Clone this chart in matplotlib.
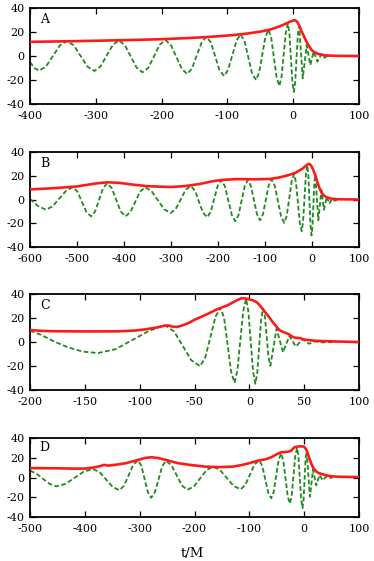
import matplotlib
matplotlib.use("Agg")
import matplotlib.pyplot as plt

# ---- panel A ----
a_t_wave = [-400, -393,
            -386, -375.5, -365, -354.5, -344, -333.5, -323, -312.5,
            -302, -293, -283.5, -274, -265, -256, -247, -238,
            -229, -220, -211.5, -203, -194, -186, -177.5, -169,
            -161, -154, -146.5, -139, -132, -125, -118.5, -112,
            -105, -99, -92.5, -86, -80, -74, -68.25, -62.5,
            -56.5, -51.75, -47, -42.25, -37.5, -33.4, -29.25, -25.1,
            -21, -17.75, -14.5, -11.25, -8, -5.75, -3.5, -1.25,
            1, 3, 5, 7, 9, 14.5, 20.5, 26, 31, 37, 43, 48, 53, 60]
a_h_wave = [-5, -10.2,
            -12.2, -8.6, 0.2, 8.9, 12.5, 8.9, 0, -8.9,
            -12.5, -8.8, 0.3, 9.3, 13, 9.1, -0.3, -9.7,
            -13.6, -9.7, -0.15, 9.4, 13.3, 9.2, -0.85, -10.9,
            -15, -10.5, 0.5, 11.5, 16, 11.2, -0.35, -11.9,
            -16.7, -11.6, 0.65, 12.9, 18, 12.5, -1, -14.5,
            -20, -13.9, 1, 15.9, 22, 15.1, -1.5, -18.1,
            -25, -17.4, 1, 19.4, 27, 18.7, -1.5, -21.7,
            -30, -22, -2.5, 17, 25, -18.6, 9, -7.5, 3.6, -4.7, 1.7, -1.4, 0.4, 0]
a_t_amp = [-400, -350, -300, -250, -200, -150, -120, -90, -70, -50,
           -35, -20, -10, -5, 0, 3, 6, 9, 12, 15,
           18, 21, 25, 28, 32, 38, 45, 55, 70, 100]
a_h_amp = [11.8, 12.2, 12.7, 13.3, 14.0, 15.2, 16.2, 17.5, 18.7, 20.3,
           22.0, 24.8, 27.2, 28.6, 29.5, 29.8, 28.5, 25.5, 21.5, 18.0,
           14.5, 11.0, 7.5, 5.0, 3.2, 1.7, 0.8, 0.3, 0.1, 0.0]

# ---- panel B ----
b_t_wave = [-600, -583,
            -566, -552, -537.5, -523, -509, -499, -489.5, -480,
            -470, -461.5, -453, -444.5, -436, -426, -416.5, -407,
            -397, -386.5, -376, -365.5, -355, -341.5, -328, -314.5,
            -301, -290, -279.5, -269, -258, -249, -240.5, -232,
            -223, -215.5, -208, -200.5, -193, -185.5, -178, -170.5,
            -163, -156.4, -149.75, -143.1, -136.5, -130, -123.5, -117,
            -110.5, -104.4, -98.25, -92.1, -86, -79.25, -72.5, -65.75,
            -59, -53.75, -48.5, -43.25, -38, -34, -30, -26,
            -22, -19, -16, -13, -10, -7.75, -5.5, -3.25,
            -1, 1, 3, 5,
            7, 13.5, 20, 25.5, 31.5, 37, 43, 48, 55]
b_h_wave = [0.5, -5.5,
            -8.6, -5.8, 0.85, 7.5, 10.3, 6.7, -1.95, -10.6,
            -14.2, -10.1, -0.3, 9.5, 13.6, 9.5, -0.3, -10.1,
            -14.2, -10.6, -1.95, 6.7, 10.3, 7.1, -0.55, -8.2,
            -11.4, -8.1, 0, 8.1, 11.4, 7.5, -1.8, -11.1,
            -15, -10.4, 0.7, 11.8, 16.4, 11.3, -0.95, -13.2,
            -18.3, -13.2, -0.95, 11.3, 16.4, 11.45, -0.55, -12.55,
            -17.5, -12.45, -0.25, 11.95, 17, 11.6, -1.35, -14.3,
            -19.7, -13.7, 0.85, 15.4, 21.4, 14.4, -2.65, -19.7,
            -26.7, -18.6, 1.1, 20.8, 28.9, 20.3, -0.7, -21.7,
            -30.3, -22.7, -4.15, 14.4,
            20.5, -17.5, 8, -8.6, 2.5, -3.5, 1, -1, 0]
b_t_amp = [-600, -550, -500, -460, -435, -410, -380, -350, -300, -270,
           -240, -210, -190, -160, -120, -90, -70, -50, -35, -20,
           -12, -7, -4, -1, 2, 5, 8, 11, 15, 20,
           25, 30, 40, 55, 100]
b_h_amp = [8.5, 9.5, 11, 13.5, 14.5, 14, 12.5, 11.2, 10.5, 11.3,
           13, 15.5, 16.5, 17.2, 17, 17.3, 18.5, 20.5, 22.5, 26,
           28.8, 30, 29.5, 28, 25.5, 22.5, 19.5, 15, 10.5, 6,
           3.5, 2, 0.8, 0.2, 0]

# ---- panel C ----
c_t_wave = [-200, -190, -177, -165, -152,
            -138, -122, -107, -92, -82,
            -76.5, -68.6, -60.75, -52.9,
            -45, -40.25, -35.5, -30.75,
            -26, -22.9, -19.75, -16.6,
            -13.5, -10.9, -8.25, -5.6,
            -3, -0.9, 1.25, 3.4,
            5.5, 7.25, 9, 10.75,
            12.5, 14.2, 15.85, 17.5,
            19.2, 24.8, 30.7, 36.5, 42.5, 48.5, 54.5, 60, 66, 80]
c_h_wave = [9.5, 6, 0, -4.5, -8,
            -9.2, -6, 1.5, 9, 12.5,
            13.8, 8.8, -3.2, -15.2,
            -20.2, -13.1, 4.15, 21.4,
            28.5, 19.4, -2.75, -24.9,
            -34, -23.8, 1, 25.8,
            36, 25.7, 0.6, -24.5,
            -34.8, -25.6, -3.4, 18.8,
            28, 21, 4.1, -12.8,
            -19.8, 11, -8.6, 5, -3.8, 2.3, -1.5, 0.5, -0.3, 0]
c_t_amp = [-200, -190, -180, -150, -120, -105, -95, -85, -78, -74,
           -70, -66, -62, -55, -50, -40, -30, -20, -12, -7,
           -2, 3, 7, 10, 13, 17, 21, 25, 28, 32,
           36, 39, 42, 46, 50, 55, 60, 70, 80, 100]
c_h_amp = [10, 9.3, 9, 8.8, 8.9, 9.5, 10.5, 12, 13.5, 13.8,
           12.8, 12.6, 13.5, 16, 18.5, 22.5, 27, 30.5, 34.5, 36.5,
           36, 34.8, 33, 30, 26.5, 22, 17, 12.5, 9.5, 8,
           6.5, 4.5, 3.5, 3.3, 2, 1.5, 1, 0.7, 0.4, 0]

# ---- panel D ----
d_t_wave = [-500, -488, -476, -464,
            -452, -435, -418.5, -402, -385, -373, -361, -349,
            -337, -328.5, -320, -311.5, -303, -297, -291, -285,
            -279, -272.25, -265.5, -258.75, -252, -242.25, -232.5, -222.75,
            -213, -201.25, -189.5, -177.75, -166, -153.5, -141, -128.5,
            -116, -107.5, -99, -90.5, -82, -76.5, -71, -65.5,
            -60, -55.5, -51, -46.5, -42, -38, -34, -30,
            -26, -22.75, -19.5, -16.25, -13, -10.5, -8, -5.5,
            -3, -1.1, 0.75, 2.6,
            4.5, 10.5, 16, 22, 28, 34, 40, 46, 52]
d_h_wave = [7, 3.8, -1.5, -6.5,
            -9, -6.45, -0.25, 5.95, 8.5, 5.4, -2.15, -9.7,
            -12.8, -8.4, 2.35, 13.1, 17.5, 12, -1.5, -15,
            -20.5, -15, -1.75, 11.5, 17, 12.7, 2.25, -8.2,
            -12.5, -9.1, -0.75, 7.6, 11, 7.6, -0.5, -8.6,
            -12, -7.7, 2.75, 13.2, 17.5, 11.9, -1.75, -15.4,
            -21, -14.4, 1.75, 17.9, 24.5, 17.05, -1, -19.05,
            -26.5, -18.25, 1.75, 21.75, 30, 21.1, -0.5, -22.1,
            -31, -22.5, -2, 18.5,
            27, -19.5, 8, -8, 2.5, -3, 1, -0.5, 0]
d_t_amp = [-500, -450, -420, -400, -385, -372, -365, -358, -345, -325,
           -305, -290, -278, -265, -250, -230, -205, -180, -155, -130,
           -115, -100, -85, -70, -60, -50, -42, -30, -24, -18,
           -10, -3, 0, 3, 6, 9, 13, 17, 21, 25,
           30, 35, 42, 50, 60, 80, 100]
d_h_amp = [9.5, 9.3, 9, 9, 10, 11.5, 12.8, 12, 12.8, 14.5,
           17.5, 19.8, 20.5, 19.5, 17.5, 14.5, 12.5, 11, 10.5, 11,
           12.5, 14.5, 17, 18.5, 20.5, 23.5, 25.5, 26, 27, 30.5,
           31.5, 31.5, 31, 29, 25.5, 20, 14, 9.5, 6.5, 5,
           3.8, 3, 2, 1.2, 0.8, 0.6, 0.5]

panel_labels = ["A", "B", "C", "D"]
x_limits = [(-400, 100), (-600, 100), (-200, 100), (-500, 100)]
x_steps = [100, 100, 50, 100]
y_ticks = [-40, -20, 0, 20, 40]


def draw_panel(ax, label, t_wave, h_wave, t_amp, h_amp, xlim, step):
    ax.plot(t_wave, h_wave, color="#1f8a1f", lw=1.3, ls=(0, (2.6, 1.4)), zorder=2)
    ax.plot(t_amp, h_amp, color="#ff1a1a", lw=1.9, zorder=3)
    ax.set_xlim(*xlim)
    ax.set_ylim(-40, 40)
    ax.set_xticks(list(range(xlim[0], xlim[1] + 1, step)))
    ax.set_yticks(y_ticks)
    ax.tick_params(direction="in", top=True, right=True, length=4, width=0.9,
                   labelsize=8)
    ax.tick_params(axis="x", pad=5)
    ax.tick_params(axis="y", pad=4)
    for sp in ax.spines.values():
        sp.set_linewidth(1.3)
    ax.text(0.045, 0.88, label, transform=ax.transAxes, ha="center",
            va="center", fontsize=9)


def plot():
    plt.rcParams["font.family"] = "DejaVu Serif"
    plt.rcParams["axes.unicode_minus"] = False

    fig = plt.figure(figsize=(3.74, 5.61), dpi=100)
    left, width = 30 / 374, 329 / 374
    boxes = [(104, 96), (247, 95), (390, 96), (517, 79)]
    data = [
        (a_t_wave, a_h_wave, a_t_amp, a_h_amp),
        (b_t_wave, b_h_wave, b_t_amp, b_h_amp),
        (c_t_wave, c_h_wave, c_t_amp, c_h_amp),
        (d_t_wave, d_h_wave, d_t_amp, d_h_amp),
    ]
    for i, (bottom_px, h_px) in enumerate(boxes):
        ax = fig.add_axes([left, 1 - bottom_px / 561, width, h_px / 561])
        draw_panel(ax, panel_labels[i], *data[i], x_limits[i], x_steps[i])

    fig.text(0.515, 0.014, "t/M", ha="center", va="center", fontsize=9.5)
    fig.savefig("out.png", dpi=100)


if __name__ == "__main__":
    plot()
